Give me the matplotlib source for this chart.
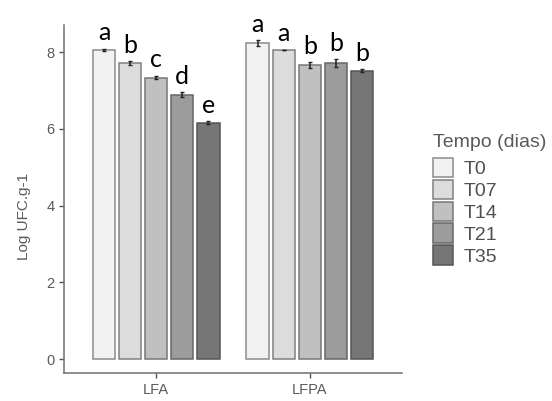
import matplotlib
matplotlib.use("Agg")
import matplotlib.pyplot as plt
import numpy as np

groups = ["LFA", "LFPA"]
series = ["T0", "T07", "T14", "T21", "T35"]
means = {
    "LFA":  [8.06, 7.71, 7.34, 6.89, 6.16],
    "LFPA": [8.24, 8.06, 7.66, 7.72, 7.52],
}
errors = {
    "LFA":  [0.03, 0.05, 0.05, 0.06, 0.04],
    "LFPA": [0.08, 0.01, 0.08, 0.10, 0.03],
}
letters = {
    "LFA":  ["a", "b", "c", "d", "e"],
    "LFPA": ["a", "a", "b", "b", "b"],
}
yticks = [0, 2, 4, 6, 8]
ylabel = "Log UFC.g-1"
legend_title = "Tempo (dias)"

fills = ["#f2f2f2", "#dcdcdc", "#c0c0c0", "#9c9c9c", "#767676"]
edges = ["#8c8c8c", "#808080", "#777777", "#666666", "#555555"]

fig = plt.figure(figsize=(5.52, 4.01), dpi=100)
ax = fig.add_axes([64/552, 1-373/401, (402-64)/552, (373-25)/401])

x = np.arange(1, len(groups) + 1)
pitch = 0.170
width = 0.145
tickcol = "#5a5a5a"

handles = []
for i, s in enumerate(series):
    vals = [means[g][i] for g in groups]
    errs = [errors[g][i] for g in groups]
    pos = x + (i - 2) * pitch
    b = ax.bar(pos, vals, width=width, color=fills[i], edgecolor=edges[i],
               linewidth=1.1, label=s, zorder=2)
    ax.errorbar(pos, vals, yerr=errs, fmt="none", ecolor="#222222",
                elinewidth=1.1, capsize=1.5, capthick=1.0, zorder=3)
    handles.append(b)
    for p, v, e, g in zip(pos, vals, errs, groups):
        ax.annotate(letters[g][i], (p, v + e), xytext=(0, 6),
                    textcoords="offset points", ha="center", va="baseline",
                    fontsize=18, family=["Lato", "DejaVu Sans"], color="black")

ax.set_xlim(0.4, 2.6)
ax.set_ylim(-0.365, 8.71)
ax.set_xticks(x)
ax.set_xticklabels(groups)
ax.set_yticks(yticks)
for sp in ["top", "right"]:
    ax.spines[sp].set_visible(False)
for sp in ["left", "bottom"]:
    ax.spines[sp].set_color("#707070")
    ax.spines[sp].set_linewidth(1.1)
ax.tick_params(axis="both", colors="#555555", length=3.5, width=1.0,
               labelcolor=tickcol)
for lab in ax.get_xticklabels():
    lab.set_fontsize(10.5)
    lab.set_family("Liberation Sans")
for lab in ax.get_yticklabels():
    lab.set_fontsize(10.5)
    lab.set_family("Liberation Sans")
ax.set_ylabel(ylabel, fontsize=11, color=tickcol, family="Liberation Sans")
ax.yaxis.set_label_coords(-0.097, 0.45)

leg = fig.legend(handles=handles, labels=series, title=legend_title,
                 loc="upper left", bbox_to_anchor=(433/552, 1-134/401),
                 frameon=False, title_fontsize=14,
                 prop={"family": "Liberation Sans", "size": 14},
                 handlelength=1.05, handleheight=1.15, labelspacing=0.08,
                 handletextpad=0.5, borderpad=0, borderaxespad=0)
leg.get_title().set_color(tickcol)
leg.get_title().set_family("Liberation Sans")
leg._legend_box.align = "left"
leg._legend_box.sep = leg._legend_box.sep + 4
for t in leg.get_texts():
    t.set_color("#505050")

fig.savefig("out.png", dpi=100)
